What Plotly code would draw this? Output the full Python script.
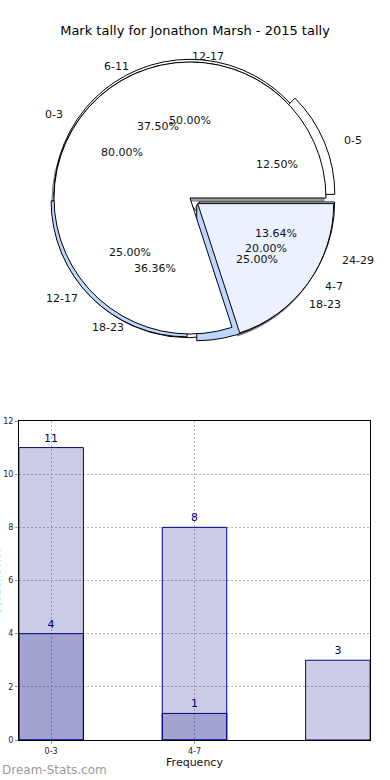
import numpy as np
import plotly.graph_objects as go

# ---------------- data ----------------
title_text = "Mark tally for Jonathon Marsh - 2015 tally"

pieA_labels = ["0-3", "4-7"]
pieA_values = [4, 1]
pieB_labels = ["0-5", "6-11", "12-17", "18-23"]
pieB_values = [1, 3, 2, 2]
pieC_labels = ["12-17", "18-23", "24-29"]
pieC_values = [11, 8, 3]

bar_categories = ["0-3", "4-7", "8-11"]
bar_light_values = [11, 8, 3]
bar_dark_values = [4, 1]
bar_tick_labels = ["0-3", "4-7"]
y_ticks = [0, 2, 4, 6, 8, 10, 12]

# ---------------- styles ----------------
W, H = 390, 780
FONT = "DejaVu Sans"
TXT = "#111111"

# pie box (px): centre and square side of the domain
cx, cy = 190, 198
max_pull = 0.07
r_px = 136
side = r_px * (2 + 2 * max_pull)

# text geometry (px per unit radius, horizontal / vertical)
rx, ry = 141, 129


def dom(dx=0, dy=0):
    x0 = (cx - side / 2 + dx) / W
    x1 = (cx + side / 2 + dx) / W
    y0 = 1 - (cy + side / 2 + dy) / H
    y1 = 1 - (cy - side / 2 + dy) / H
    return dict(x=[x0, x1], y=[y0, y1])


def start_rotation(values):
    # plotly's counterclockwise pies end the first slice at `rotation`;
    # shift so that the first slice starts at 3 o'clock (like matplotlib)
    first = 360.0 * values[0] / sum(values)
    return (90 - first) % 360


pullA = [0.0, 0.07]
pullB = [0.07, 0.0, 0.03, 0.07]
pullC = [0.02, 0.03, 0.07]

# explode used for the label placement
explA = [0.0, 0.07]
explB = [0.07, 0.0, 0.0, 0.07]
explC = [0.0, 0.0, 0.07]

common = dict(sort=False, direction="counterclockwise",
              hoverinfo="skip", showlegend=False, textinfo="none")

fig = go.Figure()

# shadow
fig.add_trace(go.Pie(labels=pieA_labels, values=pieA_values, pull=pullA,
                     rotation=start_rotation(pieA_values), domain=dom(-2, 3),
                     marker=dict(colors=["#a0a0a0", "#a0a0a0"],
                                 line=dict(color="#808080", width=1)),
                     **common))
# fills (bottom to top)
fig.add_trace(go.Pie(labels=pieC_labels, values=pieC_values, pull=pullC,
                     rotation=start_rotation(pieC_values), domain=dom(),
                     marker=dict(colors=["#ffffff", "#ffffff", "#ffffff"],
                                 line=dict(color="#000000", width=1)),
                     **common))
fig.add_trace(go.Pie(labels=pieB_labels, values=pieB_values, pull=pullB,
                     rotation=start_rotation(pieB_values), domain=dom(),
                     marker=dict(colors=["#ffffff", "#ffffff", "#bcd6ff", "#bcd6ff"],
                                 line=dict(color="#000000", width=1)),
                     **common))
fig.add_trace(go.Pie(labels=pieA_labels, values=pieA_values, pull=pullA,
                     rotation=start_rotation(pieA_values), domain=dom(),
                     marker=dict(colors=["#ffffff", "#ebf1ff"],
                                 line=dict(color="#000000", width=1)),
                     **common))

# ---------------- pie labels (annotations on a hidden axis) ----------------
annotations = []
anchor_x, anchor_y = [], []
for labs, vals, ex in [(pieA_labels, pieA_values, explA),
                       (pieB_labels, pieB_values, explB),
                       (pieC_labels, pieC_values, explC)]:
    v = np.array(vals, dtype=float)
    frac = v / v.sum()
    mids = 2 * np.pi * (np.cumsum(frac) - frac / 2)
    for lab, f, th, e in zip(labs, frac, mids, ex):
        c, s = np.cos(th), np.sin(th)
        # label
        lx, ly = (1.1 + e) * c, (1.1 + e) * s
        annotations.append(dict(text=lab, x=lx, y=ly, xref="x2", yref="y2",
                                xanchor="left" if lx > 0 else "right",
                                yanchor="middle", showarrow=False,
                                font=dict(family=FONT, size=11, color=TXT)))
        # percentage
        px_, py_ = (0.6 + e) * c, (0.6 + e) * s
        annotations.append(dict(text=f"{f * 100:.2f}%", x=px_, y=py_,
                                xref="x2", yref="y2", xanchor="center",
                                yanchor="middle", showarrow=False,
                                font=dict(family=FONT, size=11, color=TXT)))
        anchor_x += [lx, px_]
        anchor_y += [ly, py_]

fig.add_trace(go.Scatter(x=anchor_x, y=anchor_y, mode="markers",
                         marker=dict(size=1, opacity=0), hoverinfo="skip",
                         showlegend=False, xaxis="x2", yaxis="y2"))

# ---------------- bars ----------------
bar_fill = "rgba(0,0,128,0.2)"
for vals in (bar_light_values, bar_dark_values):
    fig.add_trace(go.Bar(x=bar_categories[:len(vals)], y=vals, width=0.45,
                         marker=dict(color=bar_fill,
                                     line=dict(color="#000080", width=1)),
                         text=vals, textposition="outside",
                         textfont=dict(family=FONT, size=11, color="#000080"),
                         cliponaxis=False, showlegend=False, hoverinfo="skip",
                         xaxis="x", yaxis="y"))

grid = dict(showgrid=True, gridcolor="#b4b4b4", griddash="2px,2px", gridwidth=1)

annotations += [
    dict(text="Student No.", textangle=-90, x=-4 / W, xref="paper",
         xanchor="center", y=1 - 582 / H, yref="paper", yanchor="middle",
         showarrow=False, font=dict(family=FONT, size=11, color="#333333")),
    dict(text="Dream-Stats.com", x=0, xref="paper", xanchor="left",
         y=1 - 770 / H, yref="paper", yanchor="middle", showarrow=False,
         font=dict(family=FONT, size=12, color="#9a9a9a")),
]

fig.update_layout(
    width=W, height=H,
    margin=dict(l=0, r=0, t=0, b=0, autoexpand=False),
    paper_bgcolor="white", plot_bgcolor="rgba(0,0,0,0)",
    font=dict(family=FONT, size=11, color=TXT),
    barmode="overlay",
    title=dict(text=title_text, x=0.5, xref="paper", xanchor="center",
               y=1 - 30 / H, yref="container", yanchor="middle",
               font=dict(family=FONT, size=13, color="#000000")),
    xaxis=dict(domain=[19 / W, 370 / W], anchor="y", automargin=False,
               type="category", categoryorder="array", categoryarray=bar_categories,
               range=[-0.224, 2.224],
               tickvals=bar_tick_labels, ticktext=bar_tick_labels,
               tickfont=dict(size=8, color="#222222"),
               showline=True, linecolor="#000000", linewidth=1, mirror=True,
               ticks="outside", ticklen=3, tickcolor="#999999",
               title=dict(text="Frequency", font=dict(size=11, color=TXT),
                          standoff=2),
               zeroline=False, fixedrange=True, **grid),
    yaxis=dict(domain=[1 - 740 / H, 1 - 421 / H], anchor="x", automargin=False,
               range=[0, 12], tickvals=y_ticks,
               tickfont=dict(size=8, color="#222222"),
               showline=True, linecolor="#000000", linewidth=1, mirror=True,
               ticks="outside", ticklen=3, tickcolor="#999999",
               zeroline=False, fixedrange=True, **grid),
    xaxis2=dict(domain=[0, 1], anchor="y2", range=[-cx / rx, (W - cx) / rx],
                visible=False, fixedrange=True),
    yaxis2=dict(domain=[0.5, 1], anchor="x2",
                range=[(cy - H / 2) / ry, cy / ry],
                visible=False, fixedrange=True),
    annotations=annotations,
)

fig.write_html("out.html",
               config={"displayModeBar": False, "staticPlot": True},
               post_script="document.body.style.margin='0';"
                           "document.body.style.overflow='hidden';")
